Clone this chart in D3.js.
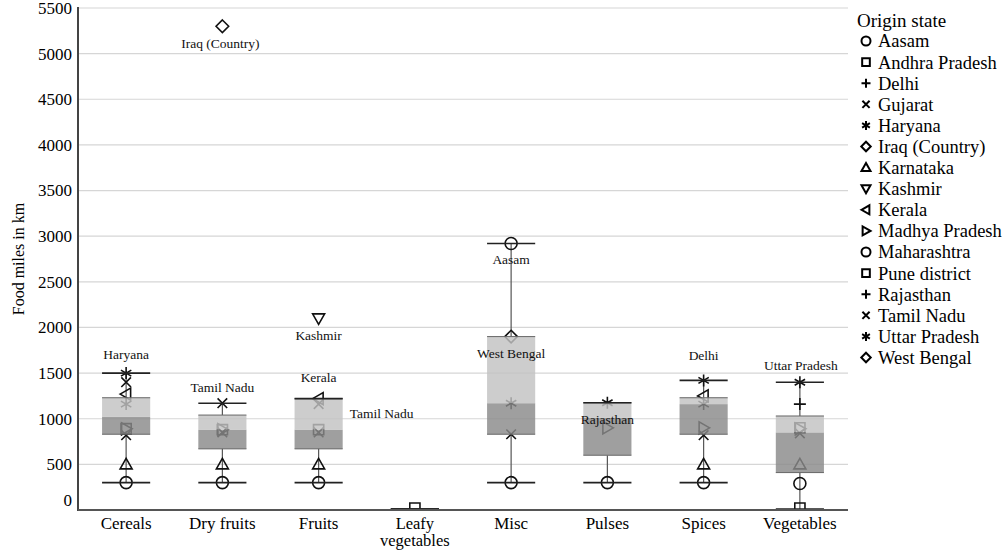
<!DOCTYPE html>
<html>
<head>
<meta charset="utf-8">
<script src="https://cdn.jsdelivr.net/npm/d3@7"></script>
<style>
  body { margin: 0; background: #fff; }
  svg { font-family: "Liberation Serif", "DejaVu Serif", serif; }
</style>
</head>
<body>
<svg id="chart" width="1008" height="550"></svg>
<script>
// box plot stats (km)
const categories = ["Cereals", "Dry fruits", "Fruits", "Leafy vegetables", "Misc", "Pulses", "Spices", "Vegetables"];
const whiskerLow  = [300, 300, 300, 10, 300, 300, 300, 10];
const q1          = [830, 670, 670, 10, 830, 600, 830, 410];
const median      = [1020, 880, 880, 10, 1170, 1010, 1160, 850];
const q3          = [1230, 1040, 1220, 10, 1900, 1175, 1230, 1030];
const whiskerHigh = [1500, 1170, 1220, 10, 2920, 1175, 1420, 1400];

const yTicks = [0, 500, 1000, 1500, 2000, 2500, 3000, 3500, 4000, 4500, 5000, 5500];

const states = ["Aasam", "Andhra Pradesh", "Delhi", "Gujarat", "Haryana", "Iraq (Country)", "Karnataka",
  "Kashmir", "Kerala", "Madhya Pradesh", "Maharashtra", "Pune district", "Rajasthan", "Tamil Nadu",
  "Uttar Pradesh", "West Bengal"];
const stateShapes = ["circle", "square", "plus", "times", "asterisk", "diamond", "triUp",
  "triDown", "triLeft", "triRight", "circle", "square", "plus", "times", "asterisk", "diamond"];

// origin state points [category, state, km]
const points = [
  ["Cereals", "Maharashtra", 300], ["Cereals", "Karnataka", 500], ["Cereals", "Gujarat", 820],
  ["Cereals", "Pune district", 890], ["Cereals", "Madhya Pradesh", 890], ["Cereals", "Uttar Pradesh", 1160],
  ["Cereals", "Kerala", 1270], ["Cereals", "Tamil Nadu", 1400], ["Cereals", "Haryana", 1500],
  ["Dry fruits", "Maharashtra", 300], ["Dry fruits", "Karnataka", 500], ["Dry fruits", "Gujarat", 850],
  ["Dry fruits", "Pune district", 880], ["Dry fruits", "Madhya Pradesh", 880], ["Dry fruits", "Tamil Nadu", 1170],
  ["Dry fruits", "Iraq (Country)", 5300],
  ["Fruits", "Maharashtra", 300], ["Fruits", "Karnataka", 500], ["Fruits", "Gujarat", 850],
  ["Fruits", "Pune district", 880], ["Fruits", "Tamil Nadu", 1160], ["Fruits", "Kerala", 1220],
  ["Fruits", "Kashmir", 2100],
  ["Leafy vegetables", "Pune district", 20],
  ["Misc", "Maharashtra", 300], ["Misc", "Gujarat", 830], ["Misc", "Uttar Pradesh", 1170],
  ["Misc", "West Bengal", 1900], ["Misc", "Aasam", 2920],
  ["Pulses", "Maharashtra", 300], ["Pulses", "Madhya Pradesh", 900], ["Pulses", "Haryana", 1175],
  ["Spices", "Maharashtra", 300], ["Spices", "Karnataka", 500], ["Spices", "Gujarat", 820],
  ["Spices", "Madhya Pradesh", 900], ["Spices", "Uttar Pradesh", 1160], ["Spices", "Kerala", 1250],
  ["Spices", "Haryana", 1420],
  ["Vegetables", "Andhra Pradesh", 20], ["Vegetables", "Aasam", 290], ["Vegetables", "Karnataka", 500],
  ["Vegetables", "Gujarat", 840], ["Vegetables", "Madhya Pradesh", 890], ["Vegetables", "Pune district", 900],
  ["Vegetables", "Delhi", 1160], ["Vegetables", "Uttar Pradesh", 1400]
];

// point labels [category, text, km]
const labels = [
  ["Cereals", "Haryana", 1500], ["Dry fruits", "Tamil Nadu", 1170], ["Dry fruits", "Iraq (Country)", 5300],
  ["Fruits", "Kerala", 1220], ["Fruits", "Kashmir", 2100], ["Fruits", "Tamil Nadu", 1160],
  ["Misc", "Aasam", 2920], ["Misc", "West Bengal", 1900], ["Pulses", "Rajasthan", 1010],
  ["Spices", "Delhi", 1420], ["Vegetables", "Uttar Pradesh", 1400]
];
// label placement: [dx, dy, anchor]
const labelPlace = [
  [0, -19, "middle"], [0, -16, "middle"], [-2, 17, "middle"],
  [0, -21, "middle"], [0, 17, "middle"], [7, 9, "start"],
  [0, 16, "middle"], [0, 17, "middle"], [0, 1, "middle"],
  [0, -25, "middle"], [1, -17, "middle"]
];

const svg = d3.select("#chart");
const mLeft = 78, mRight = 848, mTop = 8, mBottom = 510;

const x = d3.scaleBand().domain(categories).range([mLeft, mRight]).paddingInner(0.5).paddingOuter(0.25);
const y = d3.scaleLinear().domain([0, 5500]).range([mBottom, mTop]);
const bw = x.bandwidth();
const cx = c => x(c) + bw / 2;

// marker shapes, size = half width
const sq3 = Math.sqrt(3);
const shapeTypes = {
  circle: { draw(c, r) { c.moveTo(r, 0); c.arc(0, 0, r, 0, 2 * Math.PI); } },
  square: { draw(c, r) { r *= 0.85; c.rect(-r, -r, 2 * r, 2 * r); } },
  plus: { draw(c, r) { c.moveTo(-r, 0); c.lineTo(r, 0); c.moveTo(0, -r); c.lineTo(0, r); } },
  times: { draw(c, r) { r *= 0.8; c.moveTo(-r, -r); c.lineTo(r, r); c.moveTo(-r, r); c.lineTo(r, -r); } },
  asterisk: { draw(c, r) { const t = r / 2, u = t * sq3; c.moveTo(0, r); c.lineTo(0, -r); c.moveTo(-u, -t); c.lineTo(u, t); c.moveTo(-u, t); c.lineTo(u, -t); } },
  diamond: { draw(c, r) { r *= 1.05; c.moveTo(0, -r); c.lineTo(r, 0); c.lineTo(0, r); c.lineTo(-r, 0); c.closePath(); } },
  triUp: { draw(c, r) { c.moveTo(0, -r); c.lineTo(r, r * 0.75); c.lineTo(-r, r * 0.75); c.closePath(); } },
  triDown: { draw(c, r) { c.moveTo(0, r); c.lineTo(r, -r * 0.75); c.lineTo(-r, -r * 0.75); c.closePath(); } },
  triLeft: { draw(c, r) { c.moveTo(-r, 0); c.lineTo(r * 0.75, -r); c.lineTo(r * 0.75, r); c.closePath(); } },
  triRight: { draw(c, r) { c.moveTo(r, 0); c.lineTo(-r * 0.75, -r); c.lineTo(-r * 0.75, r); c.closePath(); } }
};
const shapeOf = s => shapeTypes[stateShapes[states.indexOf(s)]];
const symbolPath = (s, r) => d3.symbol().type(shapeOf(s)).size(r)();

svg.append("defs").append("clipPath").attr("id", "plotClip")
  .append("rect").attr("x", mLeft).attr("y", 0).attr("width", mRight - mLeft).attr("height", mBottom - 0.5);

// gridlines
svg.append("g").selectAll("line").data(yTicks.filter(d => d > 0)).join("line")
  .attr("x1", mLeft).attr("x2", mRight)
  .attr("y1", d => y(d)).attr("y2", d => y(d))
  .attr("stroke", "#d6d6d6").attr("stroke-width", 1.2);

// y axis labels
svg.append("g").selectAll("text").data(yTicks).join("text")
  .attr("x", 72).attr("y", d => d === 0 ? y(d) - 10 : y(d))
  .attr("dy", "0.35em").attr("text-anchor", "end")
  .attr("font-size", 17).attr("fill", "#000")
  .text(d => d);

svg.append("text")
  .attr("transform", `translate(24,${(mTop + mBottom) / 2}) rotate(-90)`)
  .attr("text-anchor", "middle").attr("font-size", 16).attr("fill", "#000")
  .text("Food miles in km");

const plot = svg.append("g").attr("clip-path", "url(#plotClip)");

// whiskers
categories.forEach((c, i) => {
  plot.append("line").attr("x1", cx(c)).attr("x2", cx(c))
    .attr("y1", y(whiskerLow[i])).attr("y2", y(q1[i]))
    .attr("stroke", "#555").attr("stroke-width", 1.2);
  plot.append("line").attr("x1", cx(c)).attr("x2", cx(c))
    .attr("y1", y(q3[i])).attr("y2", y(whiskerHigh[i]))
    .attr("stroke", "#555").attr("stroke-width", 1.2);
});

// markers
plot.append("g").selectAll("path").data(points).join("path")
  .attr("transform", d => `translate(${cx(d[0])},${y(d[2])})`)
  .attr("d", d => symbolPath(d[1], 6))
  .attr("fill", "none").attr("stroke", "#111").attr("stroke-width", 1.6);

// boxes: lower half dark, upper half light
const boxes = plot.append("g");
categories.forEach((c, i) => {
  boxes.append("rect").attr("x", x(c)).attr("width", bw)
    .attr("y", y(median[i])).attr("height", y(q1[i]) - y(median[i]))
    .attr("fill", "#8a8a8a").attr("fill-opacity", 0.82);
  boxes.append("rect").attr("x", x(c)).attr("width", bw)
    .attr("y", y(q3[i])).attr("height", y(median[i]) - y(q3[i]))
    .attr("fill", "#c2c2c2").attr("fill-opacity", 0.82);
  [q1[i], q3[i]].forEach(v => {
    boxes.append("line").attr("x1", x(c)).attr("x2", x(c) + bw)
      .attr("y1", y(v)).attr("y2", y(v))
      .attr("stroke", "#666").attr("stroke-width", 1);
  });
  [whiskerLow[i], whiskerHigh[i]].forEach(v => {
    boxes.append("line").attr("x1", x(c)).attr("x2", x(c) + bw)
      .attr("y1", y(v)).attr("y2", y(v))
      .attr("stroke", "#222").attr("stroke-width", 1.6);
  });
});

// axes lines
svg.append("line").attr("x1", mLeft).attr("x2", mLeft).attr("y1", mTop - 1).attr("y2", mBottom + 1)
  .attr("stroke", "#444").attr("stroke-width", 2);
svg.append("line").attr("x1", mLeft).attr("x2", mRight).attr("y1", mBottom).attr("y2", mBottom)
  .attr("stroke", "#555").attr("stroke-width", 2);

// x labels, long one wrapped onto two lines
const xLines = categories.flatMap(c => {
  const words = c === "Leafy vegetables" ? ["Leafy", "vegetables"] : [c];
  return words.map((w, k) => ({ c, w, k }));
});
svg.append("g").selectAll("text").data(xLines).join("text")
  .attr("x", d => cx(d.c)).attr("y", d => 529 + d.k * 17)
  .attr("text-anchor", "middle").attr("font-size", d => d.c === "Leafy vegetables" ? 16.5 : 17)
  .attr("fill", "#000")
  .text(d => d.w);

// point labels
svg.append("g").selectAll("text").data(labels).join("text")
  .attr("x", (d, i) => (labelPlace[i][2] === "start" ? x(d[0]) + bw : cx(d[0])) + labelPlace[i][0])
  .attr("y", (d, i) => y(d[2]) + labelPlace[i][1])
  .attr("dy", "0.35em").attr("text-anchor", (d, i) => labelPlace[i][2])
  .attr("font-size", 13.5).attr("fill", "#111")
  .text(d => d[1]);

// legend
const lg = svg.append("g").attr("transform", "translate(857,0)");
lg.append("text").attr("x", 0).attr("y", 20).attr("dy", "0.35em")
  .attr("font-size", 19).attr("fill", "#000").text("Origin state");
const rowY = i => 41 + i * 21.1;
lg.selectAll("path").data(states).join("path")
  .attr("transform", (d, i) => `translate(9,${rowY(i)})`)
  .attr("d", d => symbolPath(d, 4.5))
  .attr("fill", "none").attr("stroke", "#000").attr("stroke-width", 2);
lg.selectAll("text.item").data(states).join("text").attr("class", "item")
  .attr("x", 21).attr("y", (d, i) => rowY(i)).attr("dy", "0.35em")
  .attr("font-size", 18.5).attr("fill", "#000").text(d => d);
</script>
</body>
</html>
